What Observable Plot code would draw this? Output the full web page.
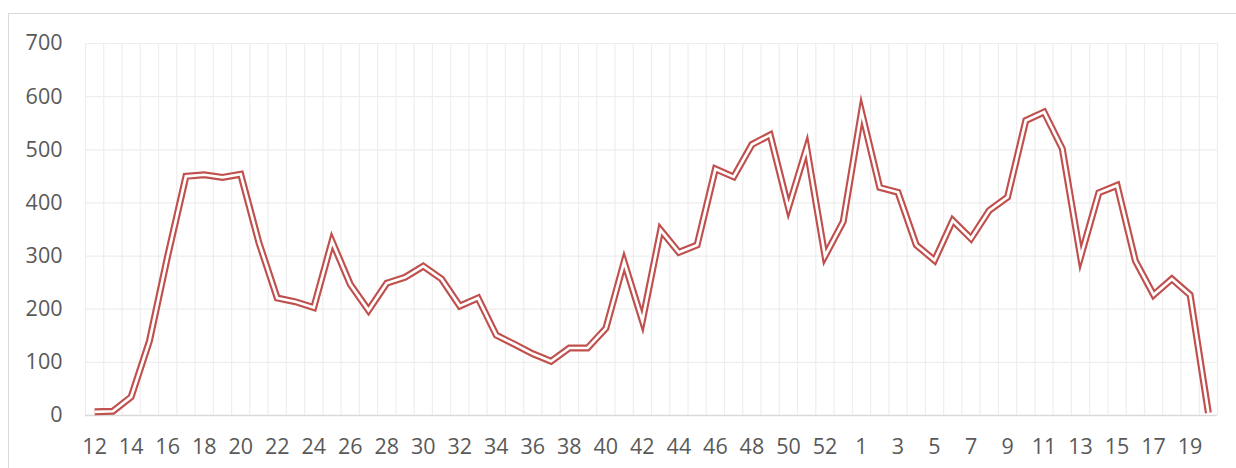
<!DOCTYPE html>
<html>
<head>
<meta charset="utf-8">
<script src="https://cdn.jsdelivr.net/npm/d3@7"></script>
<script src="https://cdn.jsdelivr.net/npm/@observablehq/plot@0.6"></script>
<style>
  html, body { margin: 0; padding: 0; background: #fff; }
  #wrap { position: relative; width: 1236px; height: 468px; overflow: hidden; }
  #border { position: absolute; left: 8px; top: 13px; width: 1260px; height: 500px; border: 1.5px solid #D9D9D9; box-sizing: border-box; }
  #chart { position: absolute; left: 0; top: 0; }
  #chart svg text { font-family: 'Open Sans', sans-serif !important; font-size: 21.5px !important; fill: #595959; }
</style>
</head>
<body>
<div id="wrap">
  <div id="border"></div>
  <div id="chart"></div>
</div>
<script>
const weeks = [12,13,14,15,16,17,18,19,20,21,22,23,24,25,26,27,28,29,30,31,32,33,34,35,36,37,38,39,40,41,42,43,44,45,46,47,48,49,50,51,52,53,
               1,2,3,4,5,6,7,8,9,10,11,12,13,14,15,16,17,18,19,20];
const values = [7,8,35,140,300,450,453,448,454,325,221,214,203,328,247,198,249,260,281,257,206,221,151,134,116,102,127,127,164,289,178,349,307,321,464,449,510,528,391,504,300,365,
                572,429,420,321,292,367,333,386,411,555,571,502,298,419,433,291,227,257,227,5];
const yTicks = [0,100,200,300,400,500,600,700];

const data = values.map((v, i) => ({i, week: weeks[i], value: v}));
const boundaries = d3.range(weeks.length + 1).map(k => ({b: k - 0.5}));
const xTicks = d3.range(0, weeks.length, 2);

const red = "#C0504D";
const chart = Plot.plot({
  width: 1236,
  height: 468,
  marginLeft: 85,
  marginRight: 19,
  marginTop: 43,
  marginBottom: 53,
  style: {fontFamily: "'Open Sans', sans-serif", fontSize: "21.5px", color: "#595959", background: "transparent"},
  x: {type: "linear", domain: [-0.5, weeks.length - 0.5], ticks: xTicks, tickFormat: i => String(weeks[i]), tickSize: 0, tickPadding: 24, label: null},
  y: {domain: [0, 700], ticks: yTicks, tickSize: 0, tickPadding: 23, label: null},
  marks: [
    Plot.ruleY(yTicks, {stroke: "#EEEEEE", strokeWidth: 1.2}),
    Plot.ruleX(boundaries, {x: "b", stroke: "#EEEEEE", strokeWidth: 1.2}),
    Plot.ruleY([0], {stroke: "#D9D9D9", strokeWidth: 1.3}),
    Plot.line(data, {x: "i", y: "value", stroke: red, strokeWidth: 7, strokeLinejoin: "miter", strokeMiterlimit: 10, strokeLinecap: "butt"}),
    Plot.line(data, {x: "i", y: "value", stroke: "#ffffff", strokeWidth: 2.7, strokeLinejoin: "miter", strokeMiterlimit: 10, strokeLinecap: "butt"}),
    Plot.axisX({ticks: xTicks, tickFormat: i => String(weeks[i]), tickSize: 0, tickPadding: 23, fill: "#595959", label: null}),
    Plot.axisY({ticks: yTicks, tickSize: 0, tickPadding: 23, fill: "#595959", label: null})
  ]
});
document.getElementById("chart").appendChild(chart);
</script>
</body>
</html>
